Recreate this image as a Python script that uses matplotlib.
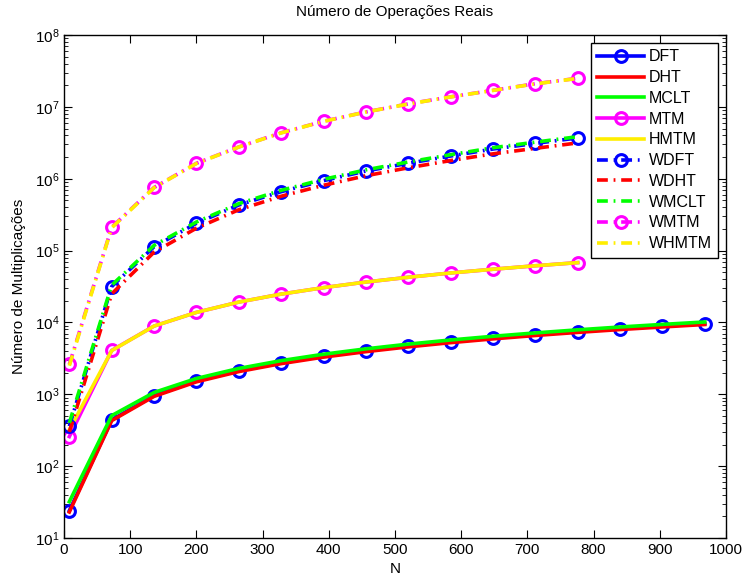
import numpy as np
import matplotlib.pyplot as plt

plt.rcParams['font.family'] = ['Liberation Sans', 'DejaVu Sans']
plt.rcParams['mathtext.fontset'] = 'custom'
plt.rcParams['mathtext.rm'] = 'Liberation Sans'

# Block sizes
n_full = [8, 72, 136, 200, 264, 328, 392, 456, 520, 584, 648, 712, 776, 840, 904, 968]
n_short = [8, 72, 136, 200, 264, 328, 392, 456, 520, 584, 648, 712, 776]

dft = [24, 440, 960, 1530, 2130, 2740, 3380, 4030, 4690, 5370, 6060, 6750, 7460, 8170, 8880, 9610]
dht = [23, 430, 935, 1490, 2070, 2670, 3290, 3920, 4570, 5230, 5900, 6580, 7270, 7960, 8650, 9360]
mclt = [32, 505, 1060, 1660, 2290, 2940, 3610, 4290, 4990, 5700, 6420, 7150, 7890, 8640, 9390, 10150]
mtm = [258, 4080, 8900, 13800, 19200, 24800, 30500, 36500, 42500, 48800, 55000, 61500, 68000]
hmtm = [320, 4050, 8900, 13800, 19200, 24800, 30500, 36500, 42500, 48800, 55000, 61500, 68000]
wdft = [360, 31600, 113000, 240000, 431000, 660000, 940000, 1280000, 1640000, 2070000, 2590000, 3100000, 3700000]
wdht = [300, 25000, 95000, 205000, 370000, 570000, 810000, 1100000, 1420000, 1790000, 2220000, 2650000, 3150000]
wmclt = [400, 33000, 118000, 250000, 450000, 690000, 980000, 1330000, 1710000, 2160000, 2700000, 3230000, 3850000]
wmtm = [2600, 211000, 756000, 1640000, 2770000, 4360000, 6300000, 8500000, 11000000, 13800000, 17000000, 21000000, 25000000]
whmtm = [2500, 208000, 750000, 1630000, 2760000, 4340000, 6280000, 8480000, 10950000, 13750000, 16950000, 20900000, 24900000]

blue = '#0000ff'
red = '#ff0000'
green = '#00ff00'
magenta = '#ff00ff'
yellow = '#ffee00'

fig = plt.figure(figsize=(7.42, 5.77), dpi=100)
ax = fig.add_axes([0.0863, 0.0676, 0.8921, 0.8717])

lw = 2.6
dd = (3.0, 1.6, 0.5, 1.6)
mk = dict(marker='o', markersize=8.5, markerfacecolor='none', markeredgewidth=2.2)

ax.plot(n_full, dft, color=blue, lw=lw, label='DFT', **mk)
ax.plot(n_full, dht, color=red, lw=lw, label='DHT')
ax.plot(n_full, mclt, color=green, lw=lw, label='MCLT')
ax.plot(n_short, mtm, color=magenta, lw=lw, label='MTM', **mk)
ax.plot(n_short, hmtm, color=yellow, lw=lw, label='HMTM')
ax.plot(n_short, wdft, color=blue, lw=lw, dashes=dd, label='WDFT', **mk)
ax.plot(n_short, wdht, color=red, lw=lw, dashes=dd, label='WDHT')
ax.plot(n_short, wmclt, color=green, lw=lw, dashes=dd, label='WMCLT')
ax.plot(n_short, wmtm, color=magenta, lw=lw, dashes=dd, label='WMTM', **mk)
ax.plot(n_short, whmtm, color=yellow, lw=lw, dashes=dd, label='WHMTM')

ax.set_yscale('log')
ax.set_xlim(0, 1000)
ax.set_ylim(1e1, 1e8)
ax.set_xticks(np.arange(0, 1001, 100))
ax.tick_params(which='both', direction='in', top=True, right=True, labelsize=11)
ax.tick_params(which='major', length=6, width=0.8)
ax.tick_params(which='minor', length=3, width=0.6)
ax.tick_params(axis='x', which='minor', bottom=False, top=False)
for s in ax.spines.values():
    s.set_linewidth(1.0)

ax.set_title('Número de Operações Reais', fontsize=11, pad=14)
ax.set_xlabel('N', fontsize=11, labelpad=4)
ax.set_ylabel('Número de Multiplicações', fontsize=11, labelpad=6)

leg = ax.legend(loc='upper right', fontsize=11.5, frameon=True, fancybox=False,
                edgecolor='black', framealpha=1, handlelength=2.9,
                handletextpad=0.3, labelspacing=0.36, borderpad=0.4,
                borderaxespad=0.5)
leg.get_frame().set_linewidth(1.0)

fig.savefig('out.png', dpi=100)
